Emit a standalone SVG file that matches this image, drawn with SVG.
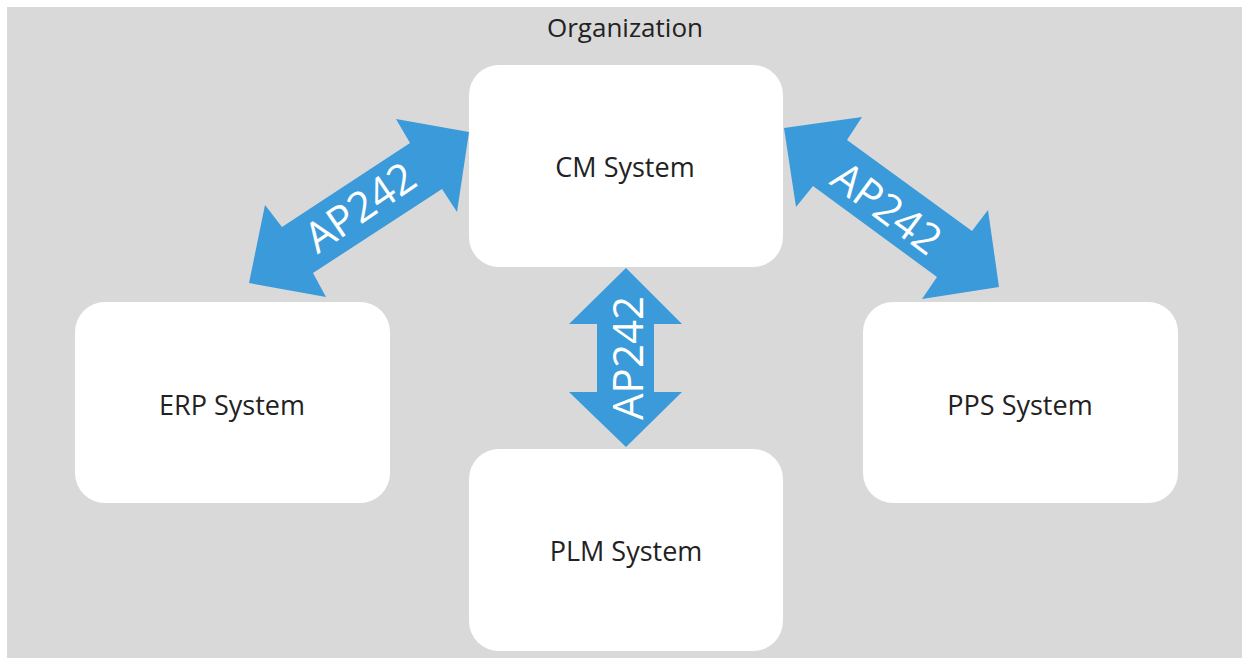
<svg xmlns="http://www.w3.org/2000/svg" width="1242" height="658" viewBox="0 0 1242 658">
<style>
.box{fill:#FFFFFF}
.lbl{font-family:"Open Sans","DejaVu Sans",sans-serif;font-size:26px;fill:#222222;text-anchor:middle}
.nl{font-size:27px}
.arr{fill:#3A9ADA}
.al{font-family:"Open Sans","DejaVu Sans",sans-serif;font-size:42px;fill:#FFFFFF;text-anchor:middle}
</style>
<rect x="0" y="0" width="1242" height="658" fill="#FFFFFF"/>
<g id="organization">
<rect x="7" y="7" width="1235" height="651" fill="#D9D9D9"/>
<text class="lbl" x="625" y="37">Organization</text>
</g>
<g id="connectors">
<g id="conn-erp-cm">
<polygon class="arr" points="469,132 457,212 442,189 313,273 326,297 249,283 265,205 282,227 410,143 396,119"/>
<text class="al" transform="translate(360,207) rotate(-34.5)" x="0" y="15">AP242</text>
</g>
<g id="conn-cm-pps">
<polygon class="arr" points="784,128 862,117 847,140 972,231 988,210 999,287 922,299 937,277 813,186 796,207"/>
<text class="al" transform="translate(887,208) rotate(36.5)" x="0" y="15">AP242</text>
</g>
<g id="conn-cm-plm">
<polygon class="arr" points="626,268 682,324 654,324 654,392 682,392 626,447 569,392 597,392 597,324 569,324"/>
<text class="al" transform="translate(628,358) rotate(-90)" x="0" y="15">AP242</text>
</g>
</g>
<g id="cm">
<rect class="box" x="469" y="65" width="314" height="202" rx="30"/>
<text class="lbl nl" x="625" y="177">CM System</text>
</g>
<g id="erp">
<rect class="box" x="75" y="302" width="315" height="201" rx="30"/>
<text class="lbl nl" x="232" y="415">ERP System</text>
</g>
<g id="pps">
<rect class="box" x="863" y="302" width="315" height="201" rx="30"/>
<text class="lbl nl" x="1020" y="415">PPS System</text>
</g>
<g id="plm">
<rect class="box" x="469" y="449" width="314" height="202" rx="30"/>
<text class="lbl nl" x="626" y="561">PLM System</text>
</g>
</svg>
